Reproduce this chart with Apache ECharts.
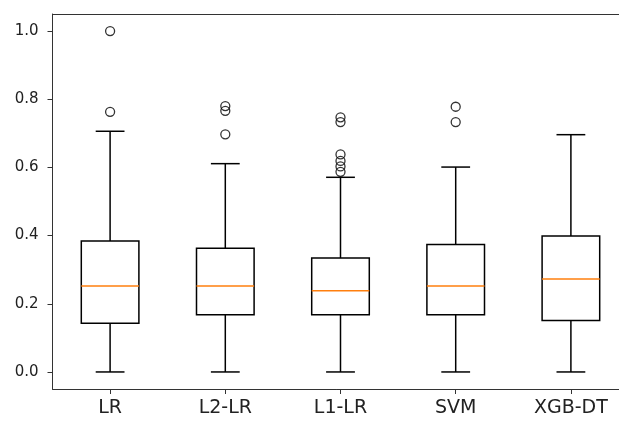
<!DOCTYPE html>
<html>
<head>
<meta charset="utf-8">
<script src="https://cdn.jsdelivr.net/npm/echarts@6/dist/echarts.min.js"></script>
<style>html,body{margin:0;padding:0;background:#fff;}#c{width:619px;height:421px;}</style>
</head>
<body>
<div id="c"></div>
<script>
var categories = ['LR', 'L2-LR', 'L1-LR', 'SVM', 'XGB-DT'];
var whiskerLow = [0, 0, 0, 0, 0];
var q1 = [0.143, 0.168, 0.168, 0.168, 0.151];
var median = [0.252, 0.252, 0.238, 0.252, 0.273];
var q3 = [0.384, 0.363, 0.334, 0.374, 0.399];
var whiskerHigh = [0.706, 0.611, 0.571, 0.601, 0.696];
var outliersLR = [0.763, 1.0];
var outliersL2 = [0.697, 0.766, 0.780];
var outliersL1 = [0.587, 0.603, 0.619, 0.638, 0.733, 0.747];
var outliersSVM = [0.733, 0.778];
var outliersXGB = [];
var yTicks = [0, 0.2, 0.4, 0.6, 0.8, 1.0];

var boxData = categories.map(function (c, i) {
  return [i, whiskerLow[i], q1[i], median[i], q3[i], whiskerHigh[i]];
});
var outlierData = [];
[outliersLR, outliersL2, outliersL1, outliersSVM, outliersXGB].forEach(function (arr, i) {
  arr.forEach(function (v) { outlierData.push([i, v]); });
});

function renderBox(params, api) {
  var idx = api.value(0);
  var band = api.size([1, 0])[0];
  var half = band * 0.25;
  var capHalf = band * 0.125;
  var pLow = api.coord([idx, api.value(1)]);
  var pQ1 = api.coord([idx, api.value(2)]);
  var pMed = api.coord([idx, api.value(3)]);
  var pQ3 = api.coord([idx, api.value(4)]);
  var pHigh = api.coord([idx, api.value(5)]);
  var x = pLow[0];
  var black = {stroke: '#000', lineWidth: 1.5, fill: null};
  return {
    type: 'group',
    children: [
      {type: 'line', shape: {x1: x, y1: pLow[1], x2: x, y2: pQ1[1]}, style: black},
      {type: 'line', shape: {x1: x, y1: pQ3[1], x2: x, y2: pHigh[1]}, style: black},
      {type: 'line', shape: {x1: x - capHalf, y1: pLow[1], x2: x + capHalf, y2: pLow[1]}, style: black},
      {type: 'line', shape: {x1: x - capHalf, y1: pHigh[1], x2: x + capHalf, y2: pHigh[1]}, style: black},
      {type: 'rect', shape: {x: x - half, y: pQ3[1], width: half * 2, height: pQ1[1] - pQ3[1]}, style: {stroke: '#000', lineWidth: 1.5, fill: 'none'}},
      {type: 'line', shape: {x1: x - half, y1: pMed[1], x2: x + half, y2: pMed[1]}, style: {stroke: '#ff7f0e', lineWidth: 1.5}}
    ]
  };
}

var chart = echarts.init(document.getElementById('c'), null, {renderer: 'canvas'});
chart.setOption({
  animation: false,
  backgroundColor: '#fff',
  grid: {left: 52.5, top: 14, width: 576, height: 375, show: false, containLabel: false, outerBoundsMode: 'none'},
  xAxis: [{
    type: 'category',
    data: categories,
    boundaryGap: true,
    position: 'bottom',
    axisLine: {show: true, onZero: false, lineStyle: {color: '#333', width: 1}},
    axisTick: {show: true, alignWithLabel: true, length: 5, lineStyle: {color: '#333'}},
    axisLabel: {color: '#222', fontFamily: 'DejaVu Sans', fontSize: 19, margin: 10},
    splitLine: {show: false}
  }, {
    type: 'category',
    data: categories,
    position: 'top',
    axisLine: {show: true, onZero: false, lineStyle: {color: '#333', width: 1}},
    axisTick: {show: false},
    axisLabel: {show: false},
    splitLine: {show: false}
  }],
  yAxis: {
    type: 'value',
    min: -0.05,
    max: 1.05,
    axisLine: {show: true, onZero: false, lineStyle: {color: '#333', width: 1}},
    axisTick: {show: true, length: 5, lineStyle: {color: '#333'}, customValues: yTicks},
    axisLabel: {color: '#222', fontFamily: 'DejaVu Sans', fontSize: 15, margin: 14, customValues: yTicks,
      formatter: function (v) { return Number(v).toFixed(1); }},
    splitLine: {show: false}
  },
  series: [
    {
      type: 'custom',
      renderItem: renderBox,
      encode: {x: 0, y: [1, 2, 3, 4, 5]},
      data: boxData,
      z: 2
    },
    {
      type: 'scatter',
      data: outlierData,
      symbol: 'circle',
      symbolSize: 9,
      itemStyle: {color: 'rgba(0,0,0,0)', borderColor: '#000', borderWidth: 1.3},
      z: 3
    }
  ]
});
</script>
</body>
</html>
